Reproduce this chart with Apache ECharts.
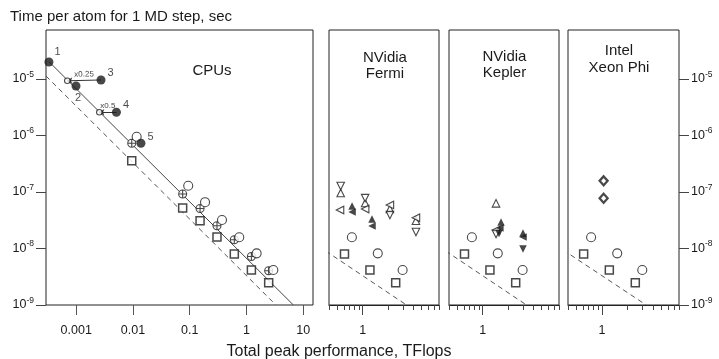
<!DOCTYPE html>
<html>
<head>
<meta charset="utf-8">
<script src="https://cdn.jsdelivr.net/npm/echarts@6/dist/echarts.min.js"></script>
<style>
html, body { margin: 0; padding: 0; background: #fff; }
#chart { width: 719px; height: 359px; }
</style>
</head>
<body>
<div id="chart"></div>
<script>
// time per atom for one MD step (sec) vs total peak performance (TFlops)
const yTicks = [1e-9, 1e-8, 1e-7, 1e-6, 1e-5];
const cpuXTicks = [0.001, 0.01, 0.1, 1, 10];
const gpuXMinor = [0.4, 0.5, 0.6, 0.7, 0.8, 0.9, 2, 3, 4, 5, 6, 7, 8];
const gpuXMajor = [1];
const panelNames = ['CPUs', 'NVidia\nFermi', 'NVidia\nKepler', 'Intel\nXeon Phi'];

const cpuLabels = ['1', '2', '3', '4', '5'];
const cpuFilled = [[3.3e-4, 2.0e-5], [9.9e-4, 7.5e-6], [2.73e-3, 9.6e-6], [5.1e-3, 2.58e-6], [0.0138, 7.3e-7]];
const cpuScaled = [[6.95e-4, 9.3e-6], [2.55e-3, 2.58e-6]];
const scaleNotes = ['x0.25', 'x0.5'];
const scaledFrom = [2, 3];
const cpuCrossed = [[0.0095, 7.3e-7], [0.075, 9.2e-8], [0.152, 5.1e-8], [0.302, 2.53e-8], [0.61, 1.43e-8], [1.22, 7.2e-9], [2.46, 4.04e-9]];
const cpuOpen = [[0.0116, 9.5e-7], [0.094, 1.29e-7], [0.186, 6.6e-8], [0.37, 3.19e-8], [0.746, 1.58e-8], [1.51, 8.2e-9], [2.97, 4.17e-9]];
const cpuSquare = [[0.0095, 3.58e-7], [0.075, 5.2e-8], [0.152, 3.1e-8], [0.302, 1.6e-8], [0.61, 8.0e-9], [1.22, 4.17e-9], [2.46, 2.48e-9]];
const solidLine = [[3.3e-4, 2.03e-5], [6.7, 1.0e-9]];
const dashedLine = [[2.93e-4, 1.13e-5], [3.3, 1.0e-9]];

const fermiUp = [[0.55, 9.6e-8], [1.07, 6.4e-8], [2.1, 5.0e-8], [4.27, 3.1e-8]];
const fermiDown = [[0.55, 1.28e-7], [1.07, 7.8e-8], [2.1, 3.9e-8], [4.27, 1.96e-8]];
const fermiLeft = [[0.54, 4.8e-8], [1.07, 5.0e-8], [2.1, 5.9e-8], [4.27, 3.5e-8]];
const fermiUpFilled = [[0.75, 5.65e-8], [1.29, 3.33e-8]];
const fermiLeftFilled = [[0.75, 4.43e-8], [1.29, 2.5e-8]];

const keplerUp = [[1.44, 6.3e-8]];
const keplerLeft = [[1.44, 2.12e-8]];
const keplerDown = [[1.44, 1.81e-8]];
const keplerUpFilled = [[1.65, 2.94e-8], [3.0, 1.88e-8]];
const keplerLeftFilled = [[1.6, 2.3e-8], [3.0, 1.6e-8]];
const keplerDownFilled = [[1.56, 1.85e-8], [3.0, 9.8e-9]];

const xeonDiamond = [[1.046, 1.58e-7], [1.046, 7.75e-8]];

const lg = Math.log10;
const toLog = arr => arr.map(p => [lg(p[0]), lg(p[1])]);
const ink = '#1a1a1a';
const font = 'Liberation Sans';

const chart = echarts.init(document.getElementById('chart'), null, { renderer: 'canvas' });

const panelRects = [
  { left: 46, top: 30, width: 267, height: 275 },
  { left: 329, top: 30, width: 110, height: 275 },
  { left: 449, top: 30, width: 110, height: 275 },
  { left: 568, top: 30, width: 111, height: 275 },
];
// grids 0-3 are the framed panels, grids 4-6 overlay panels 1-3 and carry the minor ticks
const grids = panelRects.map(r => Object.assign({}, r, { show: true, borderColor: '#222', borderWidth: 1 }))
  .concat(panelRects.slice(1).map(r => Object.assign({}, r, { show: false })));

const gpuMin = lg(0.4), gpuMax = lg(8);
const yMin = -9, yMax = -4.133;
const noLine = { show: false, onZero: false };
const hiddenAxis = { axisLine: noLine, axisTick: { show: false }, axisLabel: { show: false }, splitLine: { show: false } };
const fmtX = v => String(Number(Math.pow(10, v).toPrecision(3)));

const xAxes = [
  {
    type: 'value', gridIndex: 0, min: -3.533, max: 1.172, position: 'bottom',
    axisLine: noLine, splitLine: { show: false },
    axisTick: { customValues: cpuXTicks.map(lg), length: 10, lineStyle: { color: '#555' } },
    axisLabel: { customValues: cpuXTicks.map(lg), margin: 19, fontSize: 12.5, fontFamily: font, color: ink, formatter: fmtX },
  },
];
// long tick at 1 on the series axes
for (let i = 1; i <= 3; i++) {
  xAxes.push({
    type: 'value', gridIndex: i, min: gpuMin, max: gpuMax, position: 'bottom',
    axisLine: noLine, splitLine: { show: false },
    axisTick: { customValues: gpuXMajor.map(lg), length: 10, lineStyle: { color: '#444' } },
    axisLabel: { customValues: gpuXMajor.map(lg), margin: 19, fontSize: 12.5, fontFamily: font, color: ink, formatter: fmtX },
  });
}
// short minor ticks on the overlay axes
for (let i = 4; i <= 6; i++) {
  xAxes.push({
    type: 'value', gridIndex: i, min: gpuMin, max: gpuMax, position: 'bottom',
    axisLine: { show: true, onZero: false, lineStyle: { color: '#222', width: 1 } }, splitLine: { show: false },
    axisTick: { customValues: gpuXMinor.map(lg), length: 5, lineStyle: { color: '#444' } },
    axisLabel: { customValues: gpuXMajor.map(lg), margin: 19, fontSize: 12.5, fontFamily: font, color: 'rgba(0,0,0,0)', formatter: fmtX },
  });
}

const expLabel = {
  customValues: yTicks.map(lg), fontFamily: font, color: ink, margin: 12,
  formatter: v => '{b|10}{s|' + Math.round(v) + '}',
  rich: {
    b: { fontSize: 12.5, lineHeight: 18, fontFamily: font, color: ink, verticalAlign: 'middle' },
    s: { fontSize: 8.5, lineHeight: 9, fontFamily: font, color: ink, verticalAlign: 'top' },
  },
};
const yTickStyle = { customValues: yTicks.map(lg), length: 10, lineStyle: { color: '#444' } };

const yAxes = [
  { type: 'value', gridIndex: 0, min: yMin, max: yMax, position: 'left', axisLine: noLine, splitLine: { show: false }, axisTick: yTickStyle, axisLabel: expLabel },
  Object.assign({ type: 'value', gridIndex: 1, min: yMin, max: yMax }, hiddenAxis),
  Object.assign({ type: 'value', gridIndex: 2, min: yMin, max: yMax }, hiddenAxis),
  { type: 'value', gridIndex: 3, min: yMin, max: yMax, position: 'right', axisLine: noLine, splitLine: { show: false }, axisTick: yTickStyle, axisLabel: expLabel },
];
for (let i = 4; i <= 6; i++) {
  yAxes.push(Object.assign({ type: 'value', gridIndex: i, min: yMin, max: yMax }, hiddenAxis));
}

const openStyle = { color: '#fff', borderColor: ink, borderWidth: 1.1 };
const squareStyle = { color: '#fff', borderColor: ink, borderWidth: 1.5 };
const filledStyle = { color: ink };
const crossPath = 'path://M10,0A10,10 0 1,1 10,20A10,10 0 1,1 10,0ZM0,10L20,10M10,0L10,20';

function pts(name, data, gi, symbol, size, style, extra) {
  return Object.assign({
    name, type: 'scatter', xAxisIndex: gi, yAxisIndex: gi,
    data: toLog(data), symbol, symbolSize: size, itemStyle: style, z: 5,
  }, extra || {});
}
function dashed(gi) {
  return {
    type: 'line', xAxisIndex: gi, yAxisIndex: gi, data: toLog(dashedLine), symbol: 'none',
    lineStyle: { color: '#555', width: 1, type: [5, 4] }, z: 2, clip: true,
  };
}

const labelPlace = [
  { position: 'right', offset: [-1, -10] },
  { position: 'bottom', offset: [2, 0] },
  { position: 'right', offset: [0, -7] },
  { position: 'right', offset: [0, -7] },
  { position: 'right', offset: [0, -6] },
];

const series = [
  {
    type: 'line', xAxisIndex: 0, yAxisIndex: 0, data: toLog(solidLine), symbol: 'none',
    lineStyle: { color: '#444', width: 1 }, z: 2,
  },
  dashed(0),
  {
    type: 'lines', coordinateSystem: 'cartesian2d', xAxisIndex: 0, yAxisIndex: 0, z: 3,
    symbol: ['none', 'arrow'], symbolSize: 5,
    lineStyle: { color: '#333', width: 1, opacity: 1, curveness: 0 },
    label: { show: true, position: 'middle', fontSize: 8, fontFamily: font, color: '#444', distance: 2 },
    data: scaledFrom.map((k, i) => ({
      name: scaleNotes[i],
      coords: [[lg(cpuFilled[k][0]), lg(cpuFilled[k][1])], [lg(cpuScaled[i][0]), lg(cpuScaled[i][1])]],
      label: { formatter: scaleNotes[i] },
    })),
  },
  pts('square', cpuSquare, 0, 'rect', 8, squareStyle),
  pts('crossed', cpuCrossed, 0, crossPath, 8, openStyle),
  pts('open', cpuOpen, 0, 'circle', 9, openStyle),
  pts('scaled', cpuScaled, 0, 'circle', 5.5, openStyle, { z: 6 }),
  {
    type: 'scatter', xAxisIndex: 0, yAxisIndex: 0, symbol: 'circle', symbolSize: 9, itemStyle: filledStyle, z: 5,
    data: cpuFilled.map((p, i) => ({
      value: [lg(p[0]), lg(p[1])],
      label: Object.assign({ show: true, formatter: cpuLabels[i], fontSize: 11, fontFamily: font, color: ink, distance: 2 }, labelPlace[i]),
    })),
  },
];

for (let gi = 1; gi <= 3; gi++) {
  series.push(dashed(gi));
  series.push(pts('square', cpuSquare.slice(-3), gi, 'rect', 8, squareStyle));
  series.push(pts('open', cpuOpen.slice(-3), gi, 'circle', 9, openStyle));
}
const gpuMarks = [
  [1, fermiUp, 'triangle', 0, openStyle],
  [1, fermiDown, 'triangle', 180, openStyle],
  [1, fermiLeft, 'triangle', 90, openStyle],
  [1, fermiUpFilled, 'triangle', 0, filledStyle],
  [1, fermiLeftFilled, 'triangle', 90, filledStyle],
  [2, keplerUp, 'triangle', 0, openStyle],
  [2, keplerLeft, 'triangle', 90, openStyle],
  [2, keplerDown, 'triangle', 180, openStyle],
  [2, keplerUpFilled, 'triangle', 0, filledStyle],
  [2, keplerLeftFilled, 'triangle', 90, filledStyle],
  [2, keplerDownFilled, 'triangle', 180, filledStyle],
];
gpuMarks.forEach(([gi, data, sym, rot, style]) => {
  series.push(pts('gpu', data, gi, sym, 7.5, style, { symbolRotate: rot }));
});
series.push(pts('xeon', xeonDiamond, 3, 'diamond', [8, 9], { color: '#fff', borderColor: ink, borderWidth: 2.3 }));

const textStyle = (t, x, y, size, lh) => ({
  type: 'text', x, y, silent: true,
  style: { text: t, fontSize: size, fontFamily: font, fill: ink, align: 'center', verticalAlign: 'middle', lineHeight: lh || size + 2 },
});

chart.setOption({
  animation: false,
  backgroundColor: '#fff',
  grid: grids,
  xAxis: xAxes,
  yAxis: yAxes,
  series,
  graphic: [
    { type: 'text', x: 10, y: 17, silent: true, style: { text: 'Time per atom for 1 MD step, sec', fontSize: 15, fontFamily: font, fill: ink, align: 'left', verticalAlign: 'middle' } },
    { type: 'text', x: 339, y: 352, silent: true, style: { text: 'Total peak performance, TFlops', fontSize: 16, fontFamily: font, fill: ink, align: 'center', verticalAlign: 'middle' } },
    textStyle(panelNames[0], 212, 71, 15),
    textStyle(panelNames[1], 385, 66, 15, 16.5),
    textStyle(panelNames[2], 504.5, 65, 15, 16.5),
    textStyle(panelNames[3], 619, 59, 15, 17),
  ],
});
</script>
</body>
</html>
